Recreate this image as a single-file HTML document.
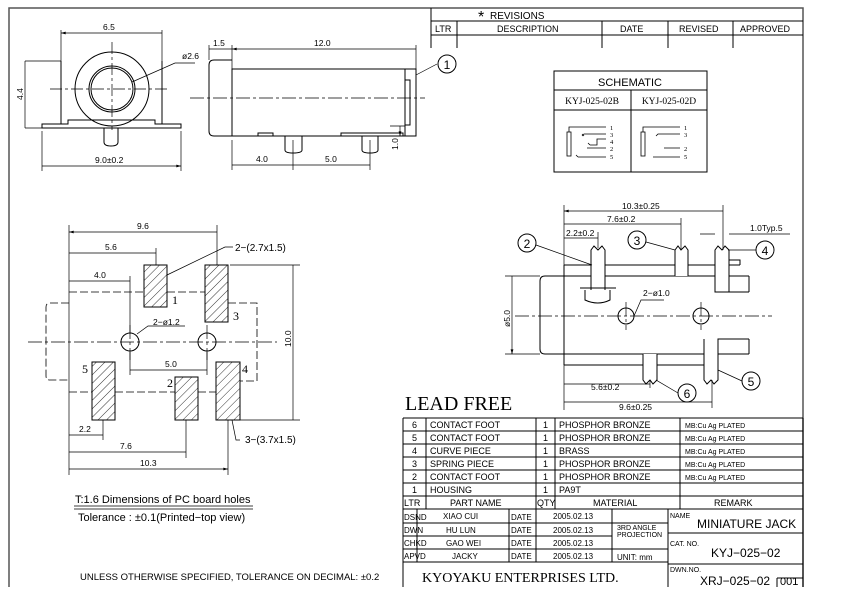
<!DOCTYPE html>
<html><head><meta charset="utf-8"><style>
html,body{margin:0;padding:0;background:#fff;}
svg{display:block;font-family:"Liberation Sans",sans-serif;}
text{fill:#000;}
</style></head><body>
<svg width="842" height="595" viewBox="0 0 842 595" xmlns="http://www.w3.org/2000/svg">
<defs>
<pattern id="h" width="6" height="6" patternUnits="userSpaceOnUse" patternTransform="rotate(45)">
<line x1="0" y1="0" x2="0" y2="6" stroke="#000" stroke-width="0.8"/></pattern>
<marker id="a" viewBox="0 0 10 6" refX="10" refY="3" markerWidth="8" markerHeight="4" orient="auto-start-reverse"><path d="M0,0L10,3L0,6z" fill="#000"/></marker>
</defs>
<g fill="none" stroke="#000" stroke-width="1">
<path d="M9,587V8H803V587" stroke="#555" stroke-width="1.5"/>
<path d="M431,8V48M431,21H803M431,35H803M457,21V48M602,21V48M668,21V48M733,21V48"/>
<rect x="554" y="71" width="153" height="101"/>
<path d="M554,90H707M554,110H707M631,90V172"/>
<g stroke-width="0.8">
<rect x="567" y="132" width="4" height="24"/>
<path d="M569,132V127H606M582,136L584,134H606M590,145H597V139H606M587,148H606M578,157H606M584,136l-2,-2M590,145l-2,-2M578,157l-2,-2"/>
<rect x="641" y="132" width="4" height="24"/>
<path d="M643,132V127H680M656,136L658,134H680M664,148H680M653,157H680"/>
</g>
<path d="M61,61V124M162,61V124M42,124H68V120H155V124H181V128H42Z"/>
<circle cx="112" cy="89" r="37"/><circle cx="112" cy="89" r="23"/><circle cx="112" cy="89" r="21"/>
<path d="M104,128V142Q104,146 111,146Q118,146 118,142V128"/>
<path d="M112,42V130M50,89H170" stroke-dasharray="12,3,3,3" stroke-width="0.7"/>
<path d="M61,30V61M162,30V61M25,61H61M25,128H42M42,131V171M181,131V171" stroke-width="0.7"/>
<path d="M61,33H162M25,61V128M42,166H181" marker-start="url(#a)" marker-end="url(#a)" stroke-width="0.7"/>
<path d="M132,82L175,63H195" stroke-width="0.7"/>
<path d="M232,60H214Q209,60 209,65V131Q209,136 214,136H416V69H232V136M405,69V136M405,80H410V125H405"/>
<path d="M258,136V133H273V136M341,136V133H403V136"/>
<path d="M285,136V150Q285,153 293,153Q302,153 302,150V136M362,136V150Q362,153 370,153Q378,153 378,150V136"/>
<path d="M190,98H425" stroke-dasharray="14,3,3,3" stroke-width="0.7"/>
<path d="M209,45V60M232,45V69M416,45V69M232,140V170M293,140V170M370,140V170M390,126H405M390,136H405" stroke-width="0.7"/>
<path d="M232,49H416M232,165H293M293,165H370M400,126V136" marker-start="url(#a)" marker-end="url(#a)" stroke-width="0.7"/>
<path d="M209,49H232" stroke-width="0.7"/>
<path d="M416,75L437,64" stroke-width="0.7"/><circle cx="447" cy="64" r="9"/>
<rect x="144" y="265" width="23" height="42" fill="url(#h)"/>
<rect x="205" y="265" width="23" height="57" fill="url(#h)"/>
<rect x="92" y="362" width="23" height="58" fill="url(#h)"/>
<rect x="175" y="377" width="23" height="43" fill="url(#h)"/>
<rect x="216" y="362" width="24" height="58" fill="url(#h)"/>
<circle cx="130" cy="342" r="9"/><circle cx="207" cy="342" r="9"/>
<path d="M28,342H277M130,325V360M207,325V360" stroke-dasharray="14,3,3,3" stroke-width="0.7"/>
<path d="M69,292H144M167,292H205M69,392H92M115,392H175M198,392H216M69,303H50Q46,303 46,307V376Q46,380 50,380H69M228,303H257V381H240" stroke-dasharray="8,3" stroke-width="0.8"/>
<path d="M69,225V475M217,225V265M156,248V265M130,276V333M130,352V375M207,352V375M230,265H300M240,420H300M103,420V440M186,420V458M228,420V475" stroke-width="0.7"/>
<path d="M69,232H217M69,253H156M69,281H130M130,370H207M293,265V420M69,435H103M69,452H186M69,469H228" marker-start="url(#a)" marker-end="url(#a)" stroke-width="0.7"/>
<path d="M167,275L225,247H233M137,334L148,326H185M232,420L236,440H240" stroke-width="0.7"/>
<!-- right view -->
<path d="M564,265V365M564,265H740M564,365H704M545,276H749M540,281V349Q540,354 545,354H749M545,276Q540,276 540,281M749,276V292M749,339V354M729,292H749"/>
<path d="M728,265V260H740V265"/>
<circle cx="626" cy="316" r="8"/><circle cx="701" cy="316" r="8"/>
<path d="M515,316H772M626,302V330M701,302V330" stroke-dasharray="14,3,3,3" stroke-width="0.7"/>
<path d="M591,290V250l3,-4l4,4l4,-4l3,4V290M580,288H616M585,290V300Q598,306 610,300V290" fill="#fff"/>
<path d="M675,276V250l3,-4l3,4l4,-4l3,4V276" fill="#fff"/>
<path d="M715,292V250l3,-4l4,4l3,-4l4,4V292Z" fill="#fff"/>
<path d="M643,354V380l3,4l4,-4l3,4l4,-4V354" fill="#fff"/>
<path d="M704,339V380l3,4l4,-4l3,4l4,-4V339H749" fill="#fff"/>
<path d="M564,205V265M723,205V250M681,218V250M598,232V248M564,365V410M650,380V388M712,380V408M505,276H540M505,354H540" stroke-width="0.7"/>
<path d="M564,211H723M564,224H681M564,384H650M564,402H712M512,276V354" marker-start="url(#a)" marker-end="url(#a)" stroke-width="0.7"/>
<path d="M564,238H598M700,234H715M729,234H790M634,316L641,300H664" stroke-width="0.7"/>
<path d="M536,245L592,265M646,242L675,250M756,250L728,250M742,381L718,370M678,393L656,380" stroke-width="0.7"/>
<circle cx="527" cy="243" r="9"/><circle cx="637" cy="240" r="9"/><circle cx="765" cy="250" r="9"/><circle cx="751" cy="381" r="9"/><circle cx="687" cy="393" r="9"/>
<path d="M74,506H253M74,509H253" stroke-width="0.7"/>
<path d="M403,418H803M403,431H803M403,444H803M403,457H803M403,470H803M403,483H803M403,496H803M403,509H803M403,523H668M403,536H612M403,549H668M403,562H668M668,533H803M668,564H803M403,418V587M426,418V509M536,418V509M555,418V509M680,418V509M803,418V587M417,509V562M509,509V562M536,509V562M612,509V562M668,509V587M777,578V587M777,578H803"/>
</g>
<g font-size="9">
<text x="490" y="19" font-size="10">REVISIONS</text>
<text x="478" y="22" font-size="16">*</text>
<text x="435" y="32">LTR</text><text x="497" y="32">DESCRIPTION</text><text x="620" y="32">DATE</text><text x="679" y="32">REVISED</text><text x="740" y="32">APPROVED</text>
<text x="630" y="86" font-size="11" text-anchor="middle">SCHEMATIC</text>
<g font-family="Liberation Serif,serif" font-size="9.5"><text x="592" y="104" text-anchor="middle">KYJ-025-02B</text><text x="669" y="104" text-anchor="middle">KYJ-025-02D</text></g>
<g font-family="Liberation Serif,serif" font-size="6.5"><text x="610" y="130">1</text><text x="610" y="137">3</text><text x="610" y="144">4</text><text x="610" y="151">2</text><text x="610" y="159">5</text><text x="684" y="130">1</text><text x="684" y="137">3</text><text x="684" y="151">2</text><text x="684" y="159">5</text></g>
<g font-size="8.5">
<text x="103" y="30">6.5</text><text x="182" y="59">ø2.6</text><text x="23" y="100" transform="rotate(-90 23 100)">4.4</text><text x="95" y="163">9.0±0.2</text>
<text x="213" y="46">1.5</text><text x="314" y="46">12.0</text><text x="256" y="162">4.0</text><text x="325" y="162">5.0</text><text x="398" y="150" transform="rotate(-90 398 150)">1.0</text>
<text x="137" y="229">9.6</text><text x="105" y="250">5.6</text><text x="94" y="278">4.0</text><text x="165" y="367">5.0</text><text x="291" y="347" transform="rotate(-90 291 347)">10.0</text>
<text x="79" y="432">2.2</text><text x="120" y="449">7.6</text><text x="140" y="466">10.3</text><text x="153" y="325">2−ø1.2</text>
<text x="235" y="251" font-size="10">2−(2.7x1.5)</text><text x="245" y="443" font-size="10">3−(3.7x1.5)</text>
<text x="622" y="209">10.3±0.25</text><text x="607" y="222">7.6±0.2</text><text x="566" y="236">2.2±0.2</text><text x="750" y="231">1.0Typ.5</text>
<text x="591" y="390">5.6±0.2</text><text x="619" y="410">9.6±0.25</text><text x="643" y="296">2−ø1.0</text><text x="510" y="327" transform="rotate(-90 510 327)">ø5.0</text>
</g>
<g font-family="Liberation Serif,serif" font-size="12"><text x="172" y="304">1</text><text x="233" y="320">3</text><text x="82" y="373">5</text><text x="167" y="387">2</text><text x="242" y="373">4</text></g>
<g font-size="12" text-anchor="middle"><text x="447" y="69">1</text><text x="527" y="248">2</text><text x="637" y="245">3</text><text x="765" y="255">4</text><text x="751" y="386">5</text><text x="687" y="398">6</text></g>
<text x="75" y="503" font-size="11">T:1.6  Dimensions of PC board holes</text>
<text x="78" y="521" font-size="11">Tolerance : ±0.1(Printed−top view)</text>
<text x="80" y="580" font-size="9.5">UNLESS OTHERWISE SPECIFIED, TOLERANCE ON DECIMAL: ±0.2</text>
<text x="405" y="410" font-family="Liberation Serif,serif" font-size="20">LEAD FREE</text>
<g font-size="9">
<text x="412" y="428">6</text><text x="430" y="428">CONTACT  FOOT</text><text x="543" y="428">1</text><text x="559" y="428">PHOSPHOR  BRONZE</text>
<text x="412" y="441">5</text><text x="430" y="441">CONTACT  FOOT</text><text x="543" y="441">1</text><text x="559" y="441">PHOSPHOR  BRONZE</text>
<text x="412" y="454">4</text><text x="430" y="454">CURVE  PIECE</text><text x="543" y="454">1</text><text x="559" y="454">BRASS</text>
<text x="412" y="467">3</text><text x="430" y="467">SPRING  PIECE</text><text x="543" y="467">1</text><text x="559" y="467">PHOSPHOR  BRONZE</text>
<text x="412" y="480">2</text><text x="430" y="480">CONTACT  FOOT</text><text x="543" y="480">1</text><text x="559" y="480">PHOSPHOR  BRONZE</text>
<text x="412" y="493">1</text><text x="430" y="493">HOUSING</text><text x="543" y="493">1</text><text x="559" y="493">PA9T</text>
<g font-size="7"><text x="685" y="428">MB:Cu    Ag     PLATED</text><text x="685" y="441">MB:Cu    Ag     PLATED</text><text x="685" y="454">MB:Cu    Ag     PLATED</text><text x="685" y="467">MB:Cu    Ag     PLATED</text><text x="685" y="480">MB:Cu    Ag     PLATED</text></g>
<text x="404" y="506">LTR</text><text x="450" y="506">PART  NAME</text><text x="537" y="506">QTY</text><text x="593" y="506">MATERIAL</text><text x="714" y="506">REMARK</text>
<g font-size="8"><text x="404" y="520">DSND</text><text x="404" y="533">DWN</text><text x="404" y="546">CHKD</text><text x="404" y="559">APVD</text>
<text x="443" y="519">XIAO  CUI</text><text x="446" y="533">HU      LUN</text><text x="446" y="546">GAO    WEI</text><text x="452" y="559">JACKY</text>
<text x="511" y="520">DATE</text><text x="511" y="533">DATE</text><text x="511" y="546">DATE</text><text x="511" y="559">DATE</text>
<text x="553" y="519">2005.02.13</text><text x="553" y="533">2005.02.13</text><text x="553" y="546">2005.02.13</text><text x="553" y="559">2005.02.13</text>
<text x="617" y="530" font-size="7">3RD ANGLE</text><text x="617" y="537" font-size="7">PROJECTION</text><text x="617" y="560">UNIT: mm</text>
<text x="670" y="518" font-size="7">NAME</text><text x="670" y="546" font-size="7">CAT. NO.</text><text x="670" y="572" font-size="7">DWN.NO.</text></g>
<text x="697" y="528" font-size="12">MINIATURE  JACK</text><text x="711" y="557" font-size="12">KYJ−025−02</text>
<text x="700" y="585" font-size="12">XRJ−025−02</text><text x="780" y="585" font-size="11">001</text>
<text x="422" y="582" font-family="Liberation Serif,serif" font-size="14">KYOYAKU  ENTERPRISES  LTD.</text>
</g>
</svg>
</body></html>
